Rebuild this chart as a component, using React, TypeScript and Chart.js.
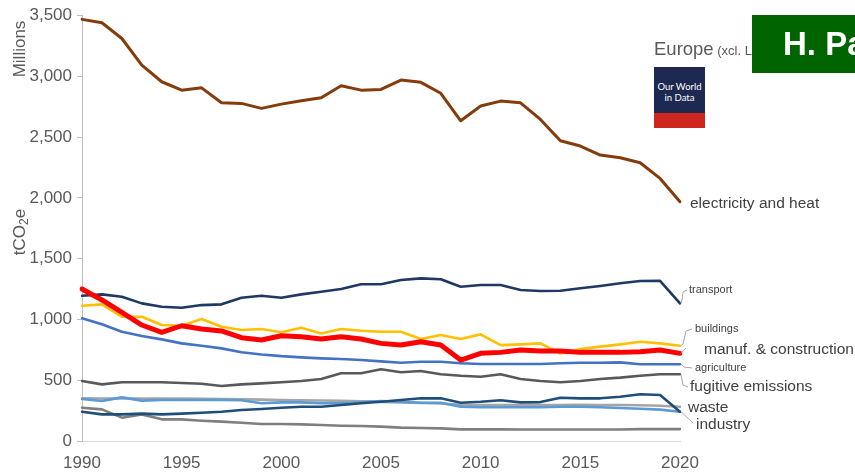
import React, { useEffect, useRef } from 'react';
import { Chart, registerables } from 'chart.js';

Chart.register(...registerables);

// ---------- data ----------
const years = [
  '1990', '1991', '1992', '1993', '1994', '1995', '1996', '1997', '1998', '1999',
  '2000', '2001', '2002', '2003', '2004', '2005', '2006', '2007', '2008', '2009',
  '2010', '2011', '2012', '2013', '2014', '2015', '2016', '2017', '2018', '2019',
  '2020',
];
const xTickLabels = ['1990', '1995', '2000', '2005', '2010', '2015', '2020'];
const yTickValues = [0, 500, 1000, 1500, 2000, 2500, 3000, 3500];

const electricityHeat = [3468, 3440, 3311, 3092, 2955, 2886, 2905, 2782, 2777, 2736, 2771, 2798, 2823, 2922, 2886, 2892, 2969, 2950, 2860, 2634, 2755, 2796, 2782, 2645, 2470, 2426, 2352, 2330, 2289, 2160, 1968];
const transport = [1195, 1206, 1187, 1132, 1104, 1096, 1118, 1124, 1178, 1195, 1178, 1206, 1228, 1250, 1289, 1289, 1324, 1338, 1330, 1269, 1283, 1283, 1242, 1234, 1236, 1256, 1275, 1297, 1316, 1318, 1132];
const buildings = [1113, 1124, 1022, 1022, 954, 948, 1003, 940, 913, 921, 894, 932, 885, 921, 907, 899, 899, 839, 872, 839, 877, 789, 795, 803, 720, 757, 776, 795, 817, 803, 784];
const manufConstruction = [1250, 1160, 1058, 954, 894, 948, 921, 905, 850, 831, 866, 858, 839, 858, 839, 803, 789, 817, 789, 666, 721, 729, 748, 740, 740, 729, 729, 729, 734, 748, 721];
const agriculture = [1009, 960, 899, 863, 836, 803, 784, 762, 730, 712, 698, 688, 680, 675, 666, 655, 644, 652, 652, 639, 633, 633, 633, 633, 639, 644, 644, 647, 631, 631, 631];
const fugitiveEmissions = [493, 466, 483, 483, 483, 477, 471, 452, 466, 474, 483, 493, 510, 557, 557, 590, 565, 576, 549, 537, 529, 549, 510, 493, 483, 493, 510, 521, 537, 549, 549];
const waste = [241, 219, 219, 225, 219, 225, 233, 241, 255, 263, 274, 282, 282, 296, 310, 323, 337, 351, 351, 315, 323, 335, 318, 320, 356, 351, 351, 364, 384, 378, 241];
const industry = [345, 329, 359, 332, 337, 337, 337, 337, 335, 310, 318, 318, 310, 310, 318, 329, 323, 315, 315, 282, 277, 277, 277, 277, 282, 282, 277, 272, 265, 258, 241];
const otherFuelCombustion = [352, 350, 350, 350, 350, 350, 348, 345, 343, 340, 337, 335, 333, 330, 327, 322, 318, 312, 308, 298, 296, 296, 296, 296, 296, 298, 296, 296, 294, 290, 282];
const landUseChange = [274, 260, 192, 219, 178, 178, 167, 159, 150, 140, 140, 137, 132, 126, 123, 118, 110, 107, 104, 96, 96, 96, 95, 95, 95, 95, 95, 95, 98, 98, 98];

// ---------- styling ----------
const FONT = '"Liberation Sans", Arial, Helvetica, sans-serif';
const TEXT = '#595959';
const LABEL = '#404040';
const CONNECTOR = '#a6a6a6';

type EndLabel = {
  series: string;
  text: string;
  x: number;
  y: number;
  size: number;
  path: number[][]; // bend points after the line end
};

const endLabels: EndLabel[] = [
  { series: 'electricity and heat', text: 'electricity and heat', x: 690, y: 204, size: 15.5, path: [] },
  { series: 'transport', text: 'transport', x: 689, y: 290, size: 11, path: [[682, 300], [683, 292], [687, 290]] },
  { series: 'buildings', text: 'buildings', x: 695, y: 329, size: 11, path: [[683, 344], [686, 331], [692, 329]] },
  { series: 'manuf. & construction', text: 'manuf. & construction', x: 704, y: 350, size: 15.5, path: [[686, 348]] },
  { series: 'agriculture', text: 'agriculture', x: 695, y: 368, size: 11, path: [[684, 367], [692, 368]] },
  { series: 'fugitive emissions', text: 'fugitive emissions', x: 690, y: 387, size: 15.5, path: [[683, 385], [688, 387]] },
  { series: 'waste', text: 'waste', x: 688, y: 408, size: 15.5, path: [] },
  { series: 'industry', text: 'industry', x: 696, y: 425, size: 15.5, path: [[693, 423]] },
];

const labelsPlugin = {
  id: 'endLabels',
  afterDraw(chart: any) {
    const ctx = chart.ctx as CanvasRenderingContext2D;
    const xs = chart.scales.x;
    const ys = chart.scales.y;
    ctx.save();
    endLabels.forEach((l) => {
      const dsIndex = chart.data.datasets.findIndex((d: any) => d.label === l.series);
      if (dsIndex >= 0 && l.path.length) {
        const data = chart.data.datasets[dsIndex].data as number[];
        const last = data.length - 1;
        const ex = xs.getPixelForValue(last);
        const ey = ys.getPixelForValue(data[last]);
        ctx.beginPath();
        ctx.strokeStyle = CONNECTOR;
        ctx.lineWidth = 1;
        ctx.moveTo(ex + 1, ey);
        l.path.forEach((p) => ctx.lineTo(p[0], p[1]));
        ctx.stroke();
      }
      ctx.fillStyle = LABEL;
      ctx.font = `${l.size}px ${FONT}`;
      ctx.textAlign = 'left';
      ctx.textBaseline = 'middle';
      ctx.fillText(l.text, l.x, l.y);
    });

    // y axis titles
    ctx.fillStyle = TEXT;
    ctx.font = `17px ${FONT}`;
    ctx.textBaseline = 'middle';
    ctx.save();
    ctx.translate(20, 49);
    ctx.rotate(-Math.PI / 2);
    ctx.textAlign = 'center';
    ctx.fillText('Millions', 0, 0);
    ctx.restore();

    ctx.save();
    ctx.translate(20, 232);
    ctx.rotate(-Math.PI / 2);
    ctx.textAlign = 'left';
    const big = `17px ${FONT}`;
    const small = `12px ${FONT}`;
    ctx.font = big;
    const w1 = ctx.measureText('tCO').width;
    ctx.font = small;
    const w2 = ctx.measureText('2').width;
    ctx.font = big;
    const w3 = ctx.measureText('e').width;
    let x0 = -(w1 + w2 + w3) / 2;
    ctx.fillText('tCO', x0, 0);
    x0 += w1;
    ctx.font = small;
    ctx.fillText('2', x0, 5);
    x0 += w2;
    ctx.font = big;
    ctx.fillText('e', x0, 0);
    ctx.restore();

    ctx.restore();
  },
};

function line(label: string, data: number[], color: string, width: number) {
  return {
    label,
    data,
    borderColor: color,
    backgroundColor: color,
    borderWidth: width,
    pointRadius: 0,
    pointHoverRadius: 0,
    tension: 0,
    fill: false,
    borderJoinStyle: 'round' as const,
    borderCapStyle: 'round' as const,
  };
}

export default function App() {
  const canvasRef = useRef<HTMLCanvasElement | null>(null);

  useEffect(() => {
    if (!canvasRef.current) return;
    const chart = new Chart(canvasRef.current, {
      type: 'line',
      data: {
        labels: years,
        datasets: [
          line('manuf. & construction', manufConstruction, '#ff0000', 5),
          line('electricity and heat', electricityHeat, '#843c0c', 3),
          line('transport', transport, '#1f3864', 2.6),
          line('buildings', buildings, '#ffc000', 2.6),
          line('agriculture', agriculture, '#4472c4', 2.6),
          line('fugitive emissions', fugitiveEmissions, '#595959', 2.6),
          line('waste', waste, '#1f4e79', 2.6),
          line('industry', industry, '#5b9bd5', 2.6),
          line('other fuel combustion', otherFuelCombustion, '#a5a5a5', 2.6),
          line('land-use change', landUseChange, '#7f7f7f', 2.6),
        ],
      },
      options: {
        responsive: false,
        animation: false,
        events: [],
        layout: { padding: { top: 15.5, right: 175, bottom: 0, left: 0 } },
        plugins: {
          legend: { display: false },
          tooltip: { enabled: false },
          title: { display: false },
        },
        scales: {
          x: {
            type: 'category',
            offset: false,
            grid: { display: true, drawOnChartArea: false, drawTicks: false, color: 'rgba(0,0,0,0)' },
            border: { display: true, color: '#d9d9d9', width: 1 },
            ticks: {
              autoSkip: false,
              maxRotation: 0,
              minRotation: 0,
              padding: 12,
              color: TEXT,
              font: { family: FONT, size: 17 },
              callback: function (this: any, value: any) {
                const lbl = this.getLabelForValue(value);
                return xTickLabels.includes(lbl) ? lbl : '';
              },
            },
            afterFit: (s: any) => {
              s.height = 31;
            },
          },
          y: {
            type: 'linear',
            min: 0,
            max: 3500,
            grid: { display: true, drawOnChartArea: false, drawTicks: true, tickLength: 5, color: '#bfbfbf' },
            border: { display: true, color: '#bfbfbf', width: 1 },
            afterBuildTicks: (s: any) => {
              s.ticks = yTickValues.map((v) => ({ value: v }));
            },
            ticks: {
              padding: 5,
              color: TEXT,
              font: { family: FONT, size: 17 },
              callback: (v: any) => Number(v).toLocaleString('en-US'),
            },
            afterFit: (s: any) => {
              s.width = 82;
            },
          },
        },
      },
      plugins: [labelsPlugin],
    });
    return () => chart.destroy();
  }, []);

  return (
    <div style={{ position: 'absolute', left: 0, top: 0, width: 855, height: 472, background: '#fff', overflow: 'hidden' }}>
      <canvas ref={canvasRef} width={855} height={472} style={{ position: 'absolute', left: 0, top: 0 }} />
      <div
        style={{
          position: 'absolute',
          left: 654,
          top: 38,
          fontFamily: FONT,
          color: TEXT,
          whiteSpace: 'nowrap',
          lineHeight: '22px',
        }}
      >
        <span style={{ fontSize: 18.5 }}>Europe</span>
        <span style={{ fontSize: 13 }}> (xcl. L</span>
      </div>
      <div
        style={{
          position: 'absolute',
          left: 654,
          top: 67,
          width: 51,
          height: 61,
          background: '#ce261e',
        }}
      >
        <div
          style={{
            width: 51,
            height: 46,
            background: '#1d2951',
            color: '#fff',
            fontFamily: 'Lato, "Noto Sans", sans-serif',
            fontSize: 9.5,
            lineHeight: '11px',
            textAlign: 'center',
            display: 'flex',
            flexDirection: 'column',
            justifyContent: 'center',
            paddingTop: 4,
            boxSizing: 'border-box',
          }}
        >
          <div>Our World</div>
          <div>in Data</div>
        </div>
      </div>
      <div
        style={{
          position: 'absolute',
          left: 752,
          top: 15,
          width: 103,
          height: 58,
          background: '#006400',
          color: '#fff',
          fontFamily: FONT,
          fontWeight: 'bold',
          fontSize: 33,
          lineHeight: '58px',
          paddingLeft: 31,
          boxSizing: 'border-box',
          whiteSpace: 'nowrap',
          overflow: 'hidden',
        }}
      >
        H. Pa
      </div>
    </div>
  );
}
